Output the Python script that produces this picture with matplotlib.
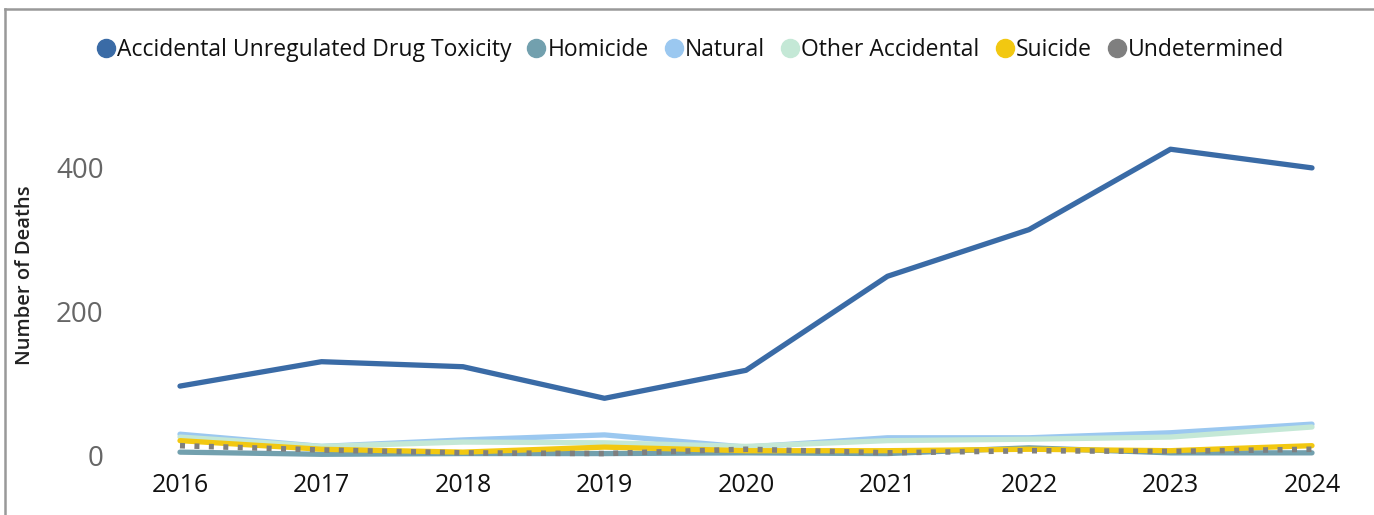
import matplotlib
matplotlib.use("Agg")
import matplotlib.pyplot as plt
from matplotlib.lines import Line2D

plt.rcParams['font.family'] = ['Open Sans', 'DejaVu Sans']

years = [2016, 2017, 2018, 2019, 2020, 2021, 2022, 2023, 2024]
series_names = ["Accidental Unregulated Drug Toxicity", "Homicide", "Natural",
                "Other Accidental", "Suicide", "Undetermined"]
drug = [96, 130, 123, 79, 118, 249, 314, 426, 400]
homicide = [4, 1, 2, 2, 3, 2, 10, 3, 3]
natural = [29, 12, 21, 28, 11, 24, 24, 31, 43]
other_acc = [25, 12, 18, 17, 12, 20, 22, 25, 39]
suicide = [20, 8, 4, 11, 6, 6, 8, 6, 13]
undetermined = [13, 7, 3, 2, 8, 3, 6, 5, 8]

colors = ["#3A6BA6", "#72A0AE", "#9BC8F0", "#C4E8D6", "#F2C811", "#7F7F7F"]
values = [drug, homicide, natural, other_acc, suicide, undetermined]

W, H = 1374, 515
fig = plt.figure(figsize=(W / 100, H / 100), dpi=100)
ax = fig.add_axes([180 / W, (H - 455) / H, 1132 / W, 323 / H])

for name, vals, c in zip(series_names, values, colors):
    if name == "Undetermined":
        ax.plot(years, vals, color=c, lw=4.0, linestyle=(0, (0.9, 1.7)),
                dash_capstyle='butt', clip_on=False, zorder=5)
    else:
        ax.plot(years, vals, color=c, lw=3.8, solid_capstyle='round',
                solid_joinstyle='round', clip_on=False)

ax.set_xlim(2016, 2024)
ax.set_ylim(0, 450)
ax.set_yticks([0, 200, 400])
ax.set_xticks(years)
ax.tick_params(axis='y', length=0, pad=55, labelsize=20, labelcolor="#666666")
ax.tick_params(axis='x', length=0, pad=13, labelsize=18, labelcolor="#111111")
for s in ax.spines.values():
    s.set_visible(False)

fig.text(25 / W, 1 - 275 / H, "Number of Deaths", rotation=90, ha='center',
         va='center', fontsize=14.5, fontweight='semibold', color="#222222")

handles = [Line2D([], [], marker='o', linestyle='none', markersize=13,
                  markerfacecolor=c, markeredgecolor=c) for c in colors]
leg = fig.legend(handles, series_names, loc='center', ncol=6,
                 bbox_to_anchor=(688 / W, 1 - 50 / H), frameon=False,
                 fontsize=16.5, handletextpad=-0.12, columnspacing=0.5,
                 handlelength=1.2)
for t in leg.get_texts():
    t.set_color("#111111")

# outer frame (top and left visible)
fig.add_artist(Line2D([4.5 / W, 4.5 / W], [0, 1 - 8.5 / H], color="#999999",
                      lw=1.8, transform=fig.transFigure))
fig.add_artist(Line2D([4.5 / W, 1], [1 - 8.5 / H, 1 - 8.5 / H], color="#999999",
                      lw=1.8, transform=fig.transFigure))

fig.savefig("out.png", dpi=100)
